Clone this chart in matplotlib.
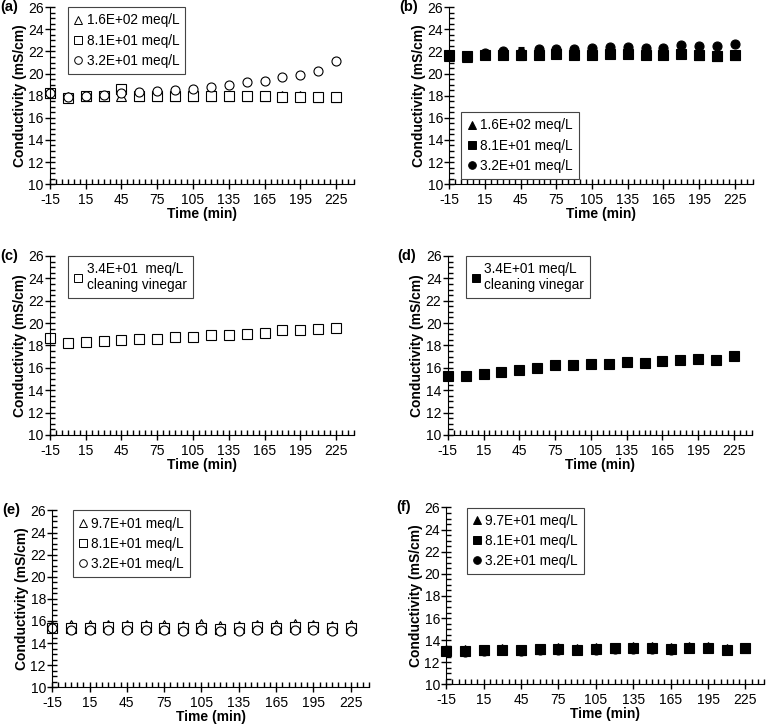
import matplotlib
matplotlib.use("Agg")
import matplotlib.pyplot as plt
from matplotlib.ticker import MultipleLocator
from matplotlib.lines import Line2D

plt.rcParams['font.family'] = ['Liberation Sans', 'DejaVu Sans']
plt.rcParams['axes.unicode_minus'] = False

t = [-15, 0, 15, 30, 45, 60, 75, 90, 105, 120, 135, 150, 165, 180, 195, 210, 225]

# (a) and (b)
a_tri = [18.2, 17.9, 17.95, 18.0, 18.0, 18.0, 18.0, 18.0, 17.95, 17.95, 18.0, 18.0, 18.0, 17.95, 17.95, 17.9, 17.9]
a_sq = [18.2, 17.8, 17.95, 18.0, 18.6, 18.0, 18.0, 18.0, 18.0, 17.95, 18.0, 17.95, 17.95, 17.9, 17.9, 17.85, 17.85]
a_ci = [18.2, 17.9, 18.0, 18.1, 18.25, 18.35, 18.45, 18.55, 18.65, 18.8, 19.0, 19.2, 19.35, 19.65, 19.85, 20.2, 21.15]
a_err = [0.1, 0.1, 0.1, 0.1, 0.2, 0.1, 0.1, 0.1, 0.1, 0.1, 0.1, 0.1, 0.1, 0.1, 0.1, 0.1, 0.1]

b_tri = [21.6, 21.5, 21.75, 21.8, 21.8, 21.9, 21.95, 21.9, 21.85, 22.0, 22.0, 21.8, 21.9, 22.0, 21.7, 21.6, 21.7]
b_sq = [21.65, 21.55, 21.7, 21.7, 21.7, 21.7, 21.75, 21.7, 21.65, 21.75, 21.75, 21.65, 21.7, 21.75, 21.65, 21.6, 21.7]
b_ci = [21.6, 21.5, 21.85, 22.0, 21.9, 22.2, 22.25, 22.2, 22.35, 22.4, 22.4, 22.35, 22.35, 22.6, 22.5, 22.5, 22.65]
b_err = [0.1, 0.1, 0.1, 0.1, 0.5, 0.1, 0.1, 0.1, 0.1, 0.1, 0.1, 0.1, 0.1, 0.1, 0.2, 0.2, 0.1]

# (c) and (d) cleaning vinegar
c_sq = [18.7, 18.25, 18.32, 18.38, 18.47, 18.56, 18.62, 18.74, 18.8, 18.9, 18.92, 19.0, 19.07, 19.34, 19.37, 19.5, 19.52]
c_err = [0.15, 0.15, 0.15, 0.15, 0.1, 0.1, 0.1, 0.15, 0.15, 0.15, 0.15, 0.15, 0.15, 0.15, 0.15, 0.15, 0.15]
d_sq = [15.24, 15.24, 15.42, 15.6, 15.78, 15.99, 16.26, 16.23, 16.32, 16.38, 16.5, 16.44, 16.62, 16.68, 16.8, 16.74, 17.04]
d_err = [0.05] * 17

# (e) and (f)
e_tri = [15.5, 15.6, 15.6, 15.65, 15.65, 15.65, 15.6, 15.55, 15.7, 15.5, 15.55, 15.65, 15.6, 15.7, 15.65, 15.55, 15.6]
e_sq = [15.4, 15.4, 15.4, 15.45, 15.45, 15.45, 15.4, 15.35, 15.4, 15.3, 15.35, 15.45, 15.4, 15.45, 15.45, 15.35, 15.4]
e_ci = [15.4, 15.15, 15.15, 15.2, 15.2, 15.15, 15.15, 15.1, 15.15, 15.05, 15.1, 15.2, 15.15, 15.2, 15.15, 15.05, 15.1]
e_err = [0.15] * 17

f_tri = [13.1, 13.1, 13.15, 13.2, 13.1, 13.2, 13.25, 13.2, 13.25, 13.3, 13.35, 13.35, 13.25, 13.35, 13.35, 13.2, 13.3]
f_sq = [13.05, 13.05, 13.1, 13.15, 13.1, 13.2, 13.2, 13.15, 13.2, 13.25, 13.25, 13.25, 13.2, 13.3, 13.3, 13.15, 13.3]
f_ci = [13.05, 12.95, 13.0, 13.1, 13.05, 13.15, 13.15, 13.1, 13.15, 13.2, 13.2, 13.2, 13.15, 13.25, 13.25, 13.1, 13.25]
f_err = [0.1] * 17

lab3 = ['1.6E+02 meq/L', '8.1E+01 meq/L', '3.2E+01 meq/L']
lab3e = ['9.7E+01 meq/L', '8.1E+01 meq/L', '3.2E+01 meq/L']

fig = plt.figure(figsize=(7.68, 7.25), dpi=100)

def setup(ax, letter):
    ax.set_xlim(-15, 240)
    ax.set_ylim(10, 26)
    ax.spines['top'].set_visible(False)
    ax.spines['right'].set_visible(False)
    ax.xaxis.set_minor_locator(MultipleLocator(5))
    ax.yaxis.set_major_locator(MultipleLocator(2))
    ax.yaxis.set_minor_locator(MultipleLocator(0.5))
    ax.set_xticks(range(-15, 240, 30))
    ax.tick_params(which='major', direction='inout', length=7, width=1, labelsize=10, pad=1)
    ax.tick_params(axis='x', which='major', pad=3)
    ax.tick_params(which='minor', direction='in', length=3.5, width=1)
    ax.set_xlabel('Time (min)', fontweight='bold', fontsize=10, labelpad=0)
    ax.set_ylabel('Conductivity (mS/cm)', fontweight='bold', fontsize=10, labelpad=1)
    ax.annotate(letter, xy=(0, 1), xycoords='axes fraction', xytext=(-36, 0),
                textcoords='offset points', fontweight='bold', fontsize=10.5, va='center')

def series(ax, y, err, marker, filled):
    fc = 'black' if filled else 'white'
    ax.errorbar(t, y, yerr=err, fmt=marker, ms=6.5, mfc=fc, mec='black', mew=0.8,
                ecolor='black', elinewidth=0.8, capsize=2.5, capthick=0.8, clip_on=False)

def legend(ax, markers, labels, filled, anchor, loc):
    fc = 'black' if filled else 'white'
    hs = [Line2D([], [], ls='none', marker=m, ms=5.5, mfc=fc, mec='black', mew=0.7) for m in markers]
    lg = ax.legend(hs, labels, loc=loc, bbox_to_anchor=anchor, fontsize=9.8, fancybox=False,
                   framealpha=1, edgecolor='#444444', handlelength=0.6, handletextpad=0.3,
                   borderpad=0.45, labelspacing=0.45, borderaxespad=0)
    lg.get_frame().set_linewidth(0.8)

pos = [[0.065, 0.746, 0.396, 0.244], [0.585, 0.746, 0.395, 0.244],
       [0.065, 0.400, 0.396, 0.247], [0.583, 0.400, 0.396, 0.247],
       [0.068, 0.052, 0.413, 0.244], [0.581, 0.056, 0.414, 0.244]]

ax = fig.add_axes(pos[0]); setup(ax, '(a)')
series(ax, a_tri, a_err, '^', False)
series(ax, a_sq, a_err, 's', False)
series(ax, a_ci, a_err, 'o', False)
legend(ax, ['^', 's', 'o'], lab3, False, (0.06, 1.0), 'upper left')

ax = fig.add_axes(pos[1]); setup(ax, '(b)')
series(ax, b_tri, b_err, '^', True)
series(ax, b_sq, b_err, 's', True)
series(ax, b_ci, b_err, 'o', True)
legend(ax, ['^', 's', 'o'], lab3, True, (0.04, 0.03), 'lower left')

ax = fig.add_axes(pos[2]); setup(ax, '(c)')
series(ax, c_sq, c_err, 's', False)
legend(ax, ['s'], ['3.4E+01  meq/L\ncleaning vinegar'], False, (0.06, 1.0), 'upper left')

ax = fig.add_axes(pos[3]); setup(ax, '(d)')
series(ax, d_sq, d_err, 's', True)
legend(ax, ['s'], ['3.4E+01 meq/L\ncleaning vinegar'], True, (0.06, 1.0), 'upper left')

ax = fig.add_axes(pos[4]); setup(ax, '(e)')
series(ax, e_tri, e_err, '^', False)
series(ax, e_sq, e_err, 's', False)
series(ax, e_ci, e_err, 'o', False)
legend(ax, ['^', 's', 'o'], lab3e, False, (0.065, 1.0), 'upper left')

ax = fig.add_axes(pos[5]); setup(ax, '(f)')
series(ax, f_tri, f_err, '^', True)
series(ax, f_sq, f_err, 's', True)
series(ax, f_ci, f_err, 'o', True)
legend(ax, ['^', 's', 'o'], lab3e, True, (0.065, 1.0), 'upper left')

fig.savefig('out.png', dpi=100)
